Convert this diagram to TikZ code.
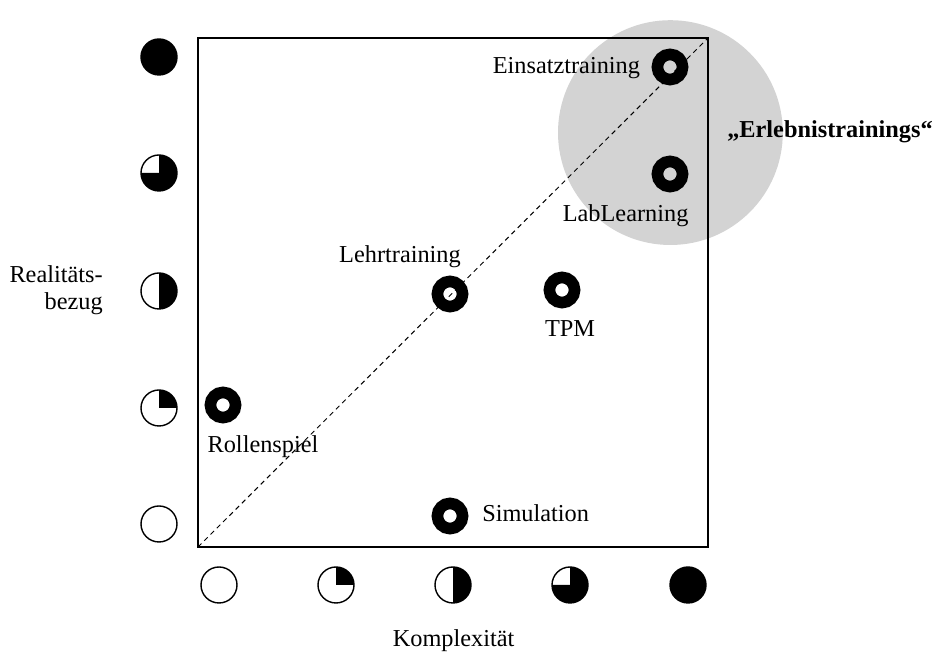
\documentclass[tikz,border=0pt]{standalone}
\usepackage{fontspec}
\setmainfont{Liberation Serif}
\definecolor{zonegray}{RGB}{211,211,211}

\tikzset{harvey/.style={shape=circle,draw=black,line width=1pt,minimum size=0.9cm,inner sep=0pt},
        quarter/.style={harvey,path picture={\fill[black] (path picture bounding box.center) rectangle ++(0.5,0.5);}},
        half/.style={harvey,path picture={\fill[black] ([yshift=-0.5cm]path picture bounding box.center) rectangle ++(0.5,1);}},
        threequarter/.style={harvey,path picture={\fill[black] (path picture bounding box.center) -- ++(0,0.5) -- ++(0.5,0) -- ++(0,-1) -- ++(-1,0) -- ++(0,0.5) -- cycle;}},
        full/.style={harvey,fill=black},
        ring/.style={shape=circle,draw=black,line width=0.29cm,minimum size=0.63cm,inner sep=0pt},
        zone/.style={shape=circle,fill=zonegray,draw=none,minimum size=5.62cm,inner sep=0pt},
        lbl/.style={font=\fontsize{17.3}{19.5}\selectfont,inner sep=0pt}}

\begin{document}
\begin{tikzpicture}
        \useasboundingbox (0,0) rectangle (23.375,16.375);

        \node[zone] (erlebnis) at (16.76,13.06) {};

        \coordinate (ll) at (4.95,2.7);
        \coordinate (ur) at (17.7,15.425);
        \draw[line width=1pt] (ll) rectangle (ur);
        \path [dashed,line width=0.7pt,dash pattern=on 3.5pt off 2.8pt] (ll) edge (ur);

        % Realitaetsbezug
        \node[harvey] (r0) at (3.975,3.275) {};
        \node[quarter] (r1) at (3.975,6.175) {};
        \node[half] (r2) at (3.975,9.1) {};
        \node[threequarter] (r3) at (3.975,12.05) {};
        \node[full] (r4) at (3.975,14.95) {};

        % Komplexitaet
        \node[harvey] (k0) at (5.475,1.75) {};
        \node[quarter] (k1) at (8.4,1.75) {};
        \node[half] (k2) at (11.325,1.75) {};
        \node[threequarter] (k3) at (14.25,1.75) {};
        \node[full] (k4) at (17.2,1.75) {};

        % Trainingsformen
        \node[ring] (einsatz) at (16.75,14.7) {};
        \node[ring] (lab) at (16.75,12.025) {};
        \node[ring] (lehr) at (11.25,9.025) {};
        \node[ring] (tpm) at (14.05,9.125) {};
        \node[ring] (rolle) at (5.575,6.25) {};
        \node[ring] (sim) at (11.25,3.475) {};

        \node[lbl,anchor=base] (einsatzlbl) at (14.16,14.525) {Einsatztraining};
        \node[lbl,anchor=base] (lablbl) at (15.64,10.825) {LabLearning};
        \node[lbl,anchor=base] (lehrlbl) at (10.0,9.8) {Lehrtraining};
        \node[lbl,anchor=base] (tpmlbl) at (14.25,7.96) {TPM};
        \node[lbl,anchor=base] (rollelbl) at (6.575,5.05) {Rollenspiel};
        \node[lbl,anchor=base west] (simlbl) at (12.05,3.33) {Simulation};

        \node[lbl,anchor=base west,font=\fontsize{17.3}{19.5}\selectfont\bfseries] (erlebnislbl) at (18.175,12.925) {„Erlebnistrainings“};
        \node[lbl,anchor=base] (komplex) at (11.34,0.2) {Komplexität};
        \node[lbl,anchor=east,align=right] (real) at (2.575,9.125) {Realitäts-\\bezug};
      \end{tikzpicture}
\end{document}
